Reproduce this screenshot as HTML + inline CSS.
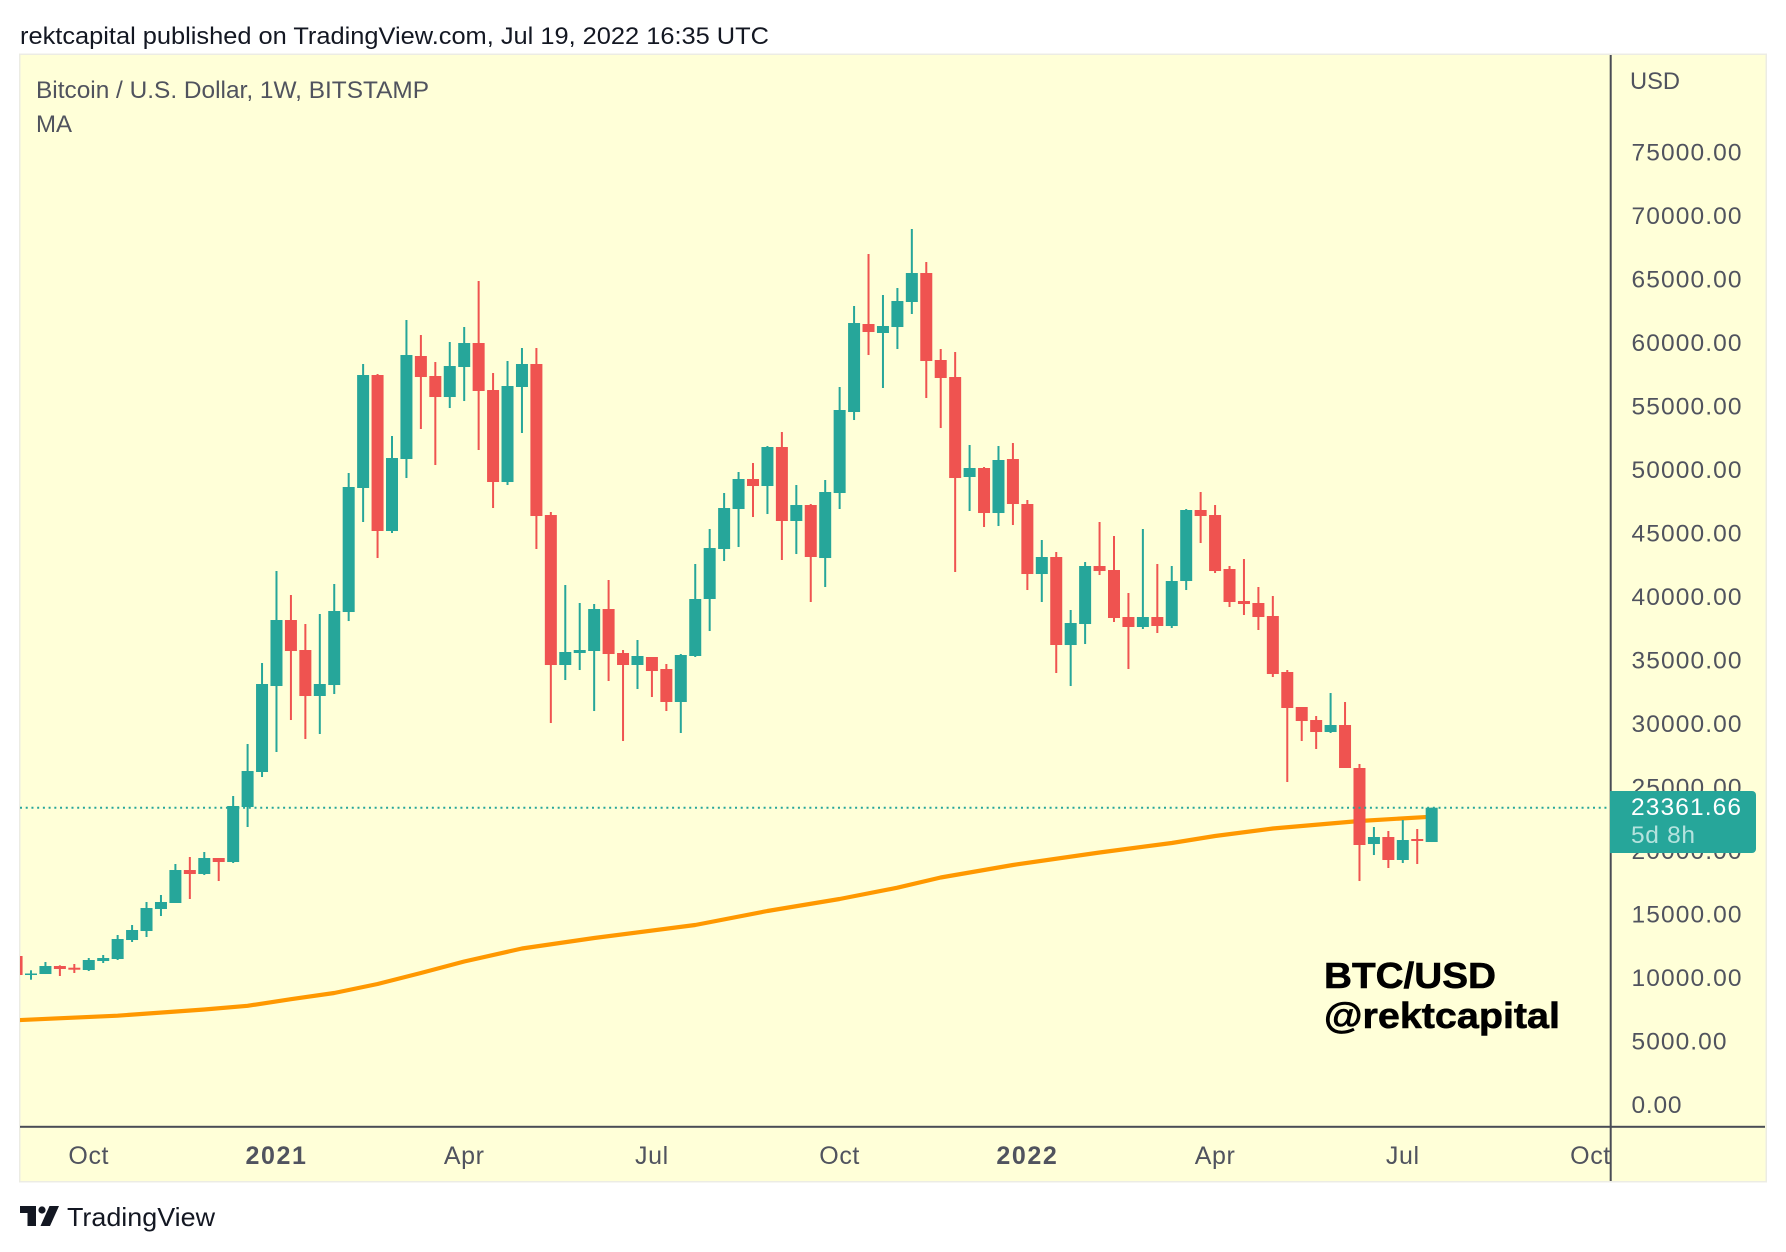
<!DOCTYPE html>
<html lang="en">
<head>
<meta charset="utf-8">
<title>BTC/USD weekly chart</title>
<style>
html,body{margin:0;padding:0;background:#fff;}
svg{display:block;font-family:"Liberation Sans",sans-serif;}
</style>
</head>
<body>
<svg id="chart" xmlns="http://www.w3.org/2000/svg" width="1786" height="1252" viewBox="0 0 1786 1252">
  <defs>
    <clipPath id="plot-clip"><rect x="20" y="55" width="1590" height="1071"/></clipPath>
  </defs>
  <rect x="0" y="0" width="1786" height="1252" fill="#ffffff"/>
  <text x="20" y="44" font-size="24" fill="#131722" textLength="749" lengthAdjust="spacingAndGlyphs">rektcapital published on TradingView.com, Jul 19, 2022 16:35 UTC</text>
  <rect x="19" y="53.5" width="1748" height="1129" fill="#ecece4"/>
  <rect x="20.5" y="55" width="1745" height="1126" fill="#ffffd8"/>
  <g id="y-axis-labels"></g>
  <g id="x-axis-labels"></g>
  <g clip-path="url(#plot-clip)">
    <path id="ma-line" fill="none" stroke="#ff9800" stroke-width="4.2" stroke-linejoin="round"/>
    <g id="candles"></g>
    <line id="last-price-line" x1="20" x2="1610" stroke="#26a69a" stroke-width="2" stroke-dasharray="2 3.72"/>
  </g>
  <rect x="1609.7" y="55" width="2" height="1126" fill="#4a4c55"/>
  <rect x="20" y="1125.8" width="1745" height="2" fill="#4a4c55"/>
  <text x="36" y="98" font-size="24" fill="#50535e" textLength="393" lengthAdjust="spacingAndGlyphs">Bitcoin / U.S. Dollar, 1W, BITSTAMP</text>
  <text x="36" y="132" font-size="24" fill="#50535e" textLength="36" lengthAdjust="spacingAndGlyphs">MA</text>
  <text x="1630" y="89" font-size="24" fill="#50535e" textLength="50" lengthAdjust="spacingAndGlyphs">USD</text>
  <path d="M1610 791H1752a4 4 0 0 1 4 4V849a4 4 0 0 1 -4 4H1610Z" fill="#26a69a"/>
  <text id="last-price-text" x="1631" y="815" font-size="24.5" fill="#ffffff" textLength="110" lengthAdjust="spacing"></text>
  <text x="1631" y="843" font-size="24.5" fill="#b5e3de" textLength="64" lengthAdjust="spacing">5d 8h</text>
  <text x="1324" y="988" font-size="36" font-weight="700" fill="#000000" stroke="#000000" stroke-width="0.6" textLength="172" lengthAdjust="spacingAndGlyphs">BTC/USD</text>
  <text x="1324" y="1028" font-size="36" font-weight="700" fill="#000000" stroke="#000000" stroke-width="0.6" textLength="236" lengthAdjust="spacingAndGlyphs">@rektcapital</text>
  <g fill="#131722">
    <path d="M20 1206H36V1226H27.5V1213H20Z"/>
    <circle cx="42" cy="1210" r="3.6"/>
    <path d="M49.5 1206H59L50 1226H40.5Z"/>
  </g>
  <text x="67" y="1226" font-size="26" fill="#131722" textLength="148" lengthAdjust="spacingAndGlyphs">TradingView</text>
</svg>
<script>
// Weekly candles, first entry is the partially clipped week at the left edge.
const opens = [11685,10188,10267,10897,10763,10582,11291,11448,12944,13653,15385,15858,18456,18141,19401,19086,23417,26173,32944,38141,35779,32157,33023,38771,48535,57432,45149,50818,58929,57354,55700,58062,59952,56251,49007,56488,58299,46409,34598,35543,35700,39007,35543,34598,35228,34283,31685,35307,39795,43732,46881,49244,48692,51763,45937,47196,43023,48141,54519,61448,60740,61212,63181,65464,58614,57275,49401,50110,46566,50818,47275,41763,43102,36173,37826,42393,42078,38377,37590,38377,37669,41212,46803,46409,42157,39637,39480,38456,34047,31291,30267,29322,29873,26488,20503,21055,19244,20897,20661];
const highs = [11685,10559,11212,10952,11055,11527,11763,13338,14125,15937,16488,18929,19480,19874,19401,24283,28377,34755,41999,40110,37826,38614,40976,49716,58299,57511,52629,61763,60582,58456,60031,61212,64834,57590,58535,59558,59558,46645,40897,39480,39401,41291,35779,36566,35228,34677,35464,42551,45307,48141,49795,50503,51842,52944,48771,47275,49165,56488,62866,66960,63732,64283,68929,66330,59480,59244,51921,50188,51842,52078,47590,44440,43496,38929,42708,45858,44755,40267,45307,42551,42393,46881,48220,47196,42393,42944,40740,40031,34204,31291,30582,32393,31685,26803,21842,21527,22393,21685,23361.66];
const lows = [10188,9818,10267,10110,10346,10503,11133,11370,12787,13181,14834,15858,16173,18062,17590,19007,21842,25779,27748,30267,28771,29165,32314,38062,45858,43023,44992,49322,53181,50346,54834,55385,51527,46960,48771,52866,43732,30031,33417,34204,30976,33338,28614,32708,32078,30976,29244,35228,37275,42787,43889,46251,46488,42866,43338,39559,40740,46881,53889,59007,56409,59480,62236,55621,53259,41921,46724,45464,45543,45621,40503,39559,33968,32944,36251,41684,37984,34283,37433,37118,37511,40503,44204,41842,39165,38535,37354,33653,25385,28614,27984,29244,26488,17590,19637,18614,19007,18929,20661];
const closes = [10188,10307,10897,10661,10606,11370,11527,13023,13732,15464,15937,18456,18141,19401,19086,23496,26251,33102,38141,35700,32157,33102,38850,48614,57432,45149,50897,59007,57275,55700,58141,59952,56173,49007,56566,58299,46330,34598,35622,35779,39007,35464,34598,35307,34125,31685,35385,39795,43810,46960,49244,48692,51763,45937,47196,43102,48220,54677,61527,60818,61291,63259,65464,58535,57196,49322,50110,46566,50740,47275,41763,43102,36173,37905,42393,41999,38299,37590,38377,37669,41212,46803,46330,41999,39559,39401,38377,33889,31212,30188,29322,29873,26488,20425,21055,19244,20818,20740,23361.66];

// Moving average readings: week number (0 = first fully visible week) and price.
const maWeeks = [-1,6,12,15,18,21,24,27,30,34,39,46,51,56,60,63,68,74,79,82,86,92,97];
const maValues = [6629,6983,7472,7763,8283,8771,9480,10346,11251,12276,13102,14125,15228,16173,17063,17866,18850,19834,20582,21133,21724,22314,22653];

const priceTicks = [0,5000,10000,15000,20000,25000,30000,35000,40000,45000,50000,55000,60000,65000,70000,75000];
const timeTickWeeks = [4,17,30,43,56,69,82,95,108];
const timeTickLabels = ["Oct","2021","Apr","Jul","Oct","2022","Apr","Jul","Oct"];
const timeTickBold = [false,true,false,false,false,true,false,false,false];
const lastPrice = 23361.66;

const NS = "http://www.w3.org/2000/svg";
const yScale = v => 1104.4 - v * 0.0127;
const xScale = w => 31 + w * 14.44;
const UP = "#26a69a";
const DOWN = "#ef5350";
const BODY_W = 12;

// Price axis labels
const yGroup = document.getElementById("y-axis-labels");
priceTicks.forEach(v => {
  const label = v.toFixed(2);
  const digits = label.length - 1;
  const t = document.createElementNS(NS, "text");
  
  
  t.setAttribute("x", 1631.5);
  t.setAttribute("y", yScale(v) + 8.4);
  t.setAttribute("font-size", "24.5");
  t.setAttribute("fill", "#50535e");
  t.setAttribute("textLength", digits * 15 + 5);
  t.setAttribute("lengthAdjust", "spacing");
  t.textContent = label;
  yGroup.appendChild(t);
});

// Time axis labels
const xGroup = document.getElementById("x-axis-labels");
timeTickWeeks.forEach((w, i) => {
  const t = document.createElementNS(NS, "text");
  
  
  t.setAttribute("x", xScale(w));
  t.setAttribute("y", 1164);
  t.setAttribute("text-anchor", "middle");
  t.setAttribute("font-size", "25");
  t.setAttribute("fill", "#50535e");
  t.setAttribute("letter-spacing", timeTickBold[i] ? "1.6" : "0.6");
  if (timeTickBold[i]) t.setAttribute("font-weight", "700");
  t.textContent = timeTickLabels[i];
  xGroup.appendChild(t);
});

// Moving average
document.getElementById("ma-line").setAttribute("d",
  maWeeks.map((w, i) => (i ? "L" : "M") + xScale(w).toFixed(1) + " " + yScale(maValues[i]).toFixed(1)).join(" "));

// Candles
const candleGroup = document.getElementById("candles");
opens.forEach((open, i) => {
  const close = closes[i];
  const week = i - 1;
  const x = xScale(week);
  const color = close >= open ? UP : DOWN;
  const wick = document.createElementNS(NS, "rect");
  
  
  wick.setAttribute("x", (x - 1).toFixed(2));
  wick.setAttribute("y", yScale(highs[i]).toFixed(2));
  wick.setAttribute("width", 2);
  wick.setAttribute("height", (yScale(lows[i]) - yScale(highs[i])).toFixed(2));
  wick.setAttribute("fill", color);
  candleGroup.appendChild(wick);
  const top = yScale(Math.max(open, close));
  const bottom = yScale(Math.min(open, close));
  const body = document.createElementNS(NS, "rect");
  
  
  body.setAttribute("x", (x - BODY_W / 2).toFixed(2));
  body.setAttribute("y", top.toFixed(2));
  body.setAttribute("width", BODY_W);
  body.setAttribute("height", Math.max(1.5, bottom - top).toFixed(2));
  body.setAttribute("fill", color);
  candleGroup.appendChild(body);
});

// Last price marker
const lastLine = document.getElementById("last-price-line");
lastLine.setAttribute("y1", yScale(lastPrice));
lastLine.setAttribute("y2", yScale(lastPrice));
document.getElementById("last-price-text").textContent = lastPrice.toFixed(2);
</script>
</body>
</html>
